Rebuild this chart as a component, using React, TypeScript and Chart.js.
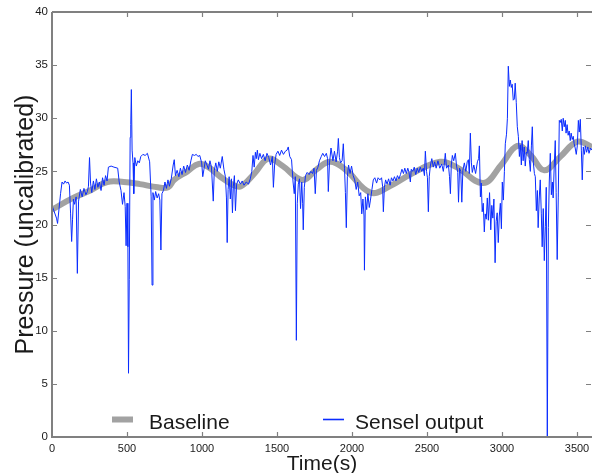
import React, { useEffect, useRef } from "react";
import { Chart, registerables } from "chart.js";

Chart.register(...registerables);

const FONT = "'Liberation Sans', Arial, Helvetica, sans-serif";

const xTitle = "Time(s)";
const yTitle = "Pressure (uncalibrated)";
const seriesLabels = ["Baseline", "Sensel output"];

const xTickValues = [0, 500, 1000, 1500, 2000, 2500, 3000, 3500];
const yTickValues = [0, 5, 10, 15, 20, 25, 30, 35, 40];

const baselineTime = [
  0, 141, 255, 368, 478, 586, 705, 774, 814, 903, 978, 1043, 1122, 1211, 1261, 1350, 1442, 1538, 1668, 1765,
  1854, 1954, 2123, 2251, 2400, 2588, 2697, 2875, 2994, 3102, 3192, 3281, 3390, 3502, 3600,
];
const baselineValue = [
  21.4, 22.5, 23.2, 24.0, 24.0, 23.8, 23.5, 23.5, 24.2, 25.0, 25.7, 25.4, 24.5, 23.7, 23.6, 24.8, 26.2, 25.5, 24.2, 25.2,
  25.9, 25.2, 23.0, 23.6, 24.8, 25.9, 25.4, 23.9, 25.6, 27.4, 26.5, 25.1, 26.4, 27.8, 27.3,
];

const senselTime = [
  0, 30, 37, 47, 57, 67, 77, 87, 97, 107, 116, 124, 131, 137, 143, 151, 161, 169, 177, 189,
  201, 213, 226, 236, 243, 250, 257, 265, 276, 286, 296, 306, 316, 327, 337, 347, 357, 367, 376, 394,
  413, 438, 448, 460, 470, 480, 488, 494, 500, 506, 510, 515, 521, 525, 529, 534, 540, 545, 552, 562,
  572, 582, 592, 606, 621, 636, 651, 661, 667, 673, 682, 691, 701, 711, 719, 726, 733, 743, 753, 763,
  773, 783, 795, 808, 815, 823, 834, 846, 856, 867, 878, 890, 902, 914, 926, 936, 949, 962, 973, 985,
  998, 1005, 1013, 1022, 1033, 1043, 1053, 1063, 1075, 1082, 1092, 1102, 1112, 1122, 1135, 1146, 1156, 1163, 1168, 1174,
  1181, 1189, 1196, 1203, 1209, 1216, 1223, 1231, 1242, 1256, 1268, 1280, 1295, 1310, 1322, 1332, 1340, 1348, 1356, 1362,
  1369, 1376, 1386, 1397, 1409, 1421, 1433, 1445, 1457, 1469, 1476, 1484, 1494, 1506, 1518, 1530, 1543, 1556, 1567, 1575,
  1585, 1597, 1607, 1615, 1622, 1629, 1635, 1642, 1650, 1657, 1665, 1671, 1675, 1682, 1690, 1701, 1714, 1726, 1737, 1747,
  1755, 1763, 1773, 1783, 1795, 1805, 1817, 1829, 1837, 1842, 1850, 1860, 1873, 1883, 1894, 1904, 1909, 1916, 1924, 1934,
  1942, 1950, 1956, 1962, 1969, 1977, 1987, 1997, 2008, 2018, 2028, 2038, 2048, 2058, 2065, 2073, 2080, 2083, 2089, 2098,
  2106, 2115, 2123, 2133, 2142, 2152, 2164, 2174, 2186, 2197, 2204, 2209, 2216, 2224, 2234, 2244, 2254, 2263, 2273, 2283,
  2293, 2303, 2313, 2323, 2333, 2343, 2352, 2362, 2372, 2380, 2389, 2395, 2405, 2415, 2425, 2435, 2445, 2455, 2465, 2475,
  2483, 2489, 2497, 2503, 2509, 2515, 2522, 2532, 2542, 2551, 2561, 2573, 2585, 2598, 2609, 2616, 2622, 2630, 2643, 2650,
  2656, 2662, 2669, 2678, 2689, 2697, 2705, 2710, 2717, 2725, 2732, 2739, 2749, 2759, 2768, 2776, 2782, 2789, 2796, 2802,
  2812, 2824, 2836, 2844, 2849, 2856, 2862, 2868, 2875, 2882, 2888, 2895, 2902, 2909, 2917, 2925, 2932, 2939, 2946, 2954,
  2961, 2968, 2975, 2982, 2989, 2996, 3002, 3009, 3016, 3022, 3030, 3036, 3042, 3049, 3055, 3062, 3068, 3075, 3082, 3088,
  3095, 3102, 3109, 3116, 3122, 3129, 3134, 3141, 3148, 3155, 3162, 3168, 3175, 3182, 3189, 3196, 3202, 3209, 3216, 3222,
  3229, 3236, 3241, 3248, 3255, 3262, 3268, 3275, 3282, 3289, 3295, 3302, 3309, 3315, 3322, 3329, 3336, 3341, 3348, 3355,
  3361, 3368, 3375, 3382, 3388, 3395, 3402, 3408, 3415, 3422, 3427, 3434, 3441, 3448, 3455, 3461, 3468, 3475, 3481, 3488,
  3495, 3502, 3509, 3515, 3522, 3529, 3535, 3542, 3549, 3556, 3564, 3572, 3580, 3590, 3600,
];
const senselValue = [
  21.8, 20.6, 20.1, 21.5, 22.9, 24.0, 23.8, 24.1, 23.9, 24.0, 23.7, 21.0, 18.4, 20.5, 22.4, 21.9, 22.6, 15.4, 22.2, 23.3,
  22.6, 23.4, 22.8, 23.1, 23.6, 26.3, 23.9, 23.0, 24.1, 23.3, 24.3, 23.5, 24.0, 23.2, 24.4, 23.7, 24.6, 24.1, 25.4, 25.5,
  25.4, 25.3, 24.0, 23.2, 21.9, 23.0, 21.7, 18.0, 22.0, 17.9, 6.0, 14.8, 28.2, 29.4, 32.7, 27.0, 25.8, 22.9, 26.3, 25.5,
  26.0, 25.8, 26.4, 26.6, 26.5, 26.7, 25.9, 22.6, 14.3, 23.0, 22.3, 23.1, 22.5, 22.9, 22.3, 17.6, 22.9, 23.2, 24.0, 23.4,
  24.2, 23.6, 24.3, 25.6, 26.1, 24.6, 25.1, 24.5, 25.3, 24.7, 25.5, 24.9, 25.6, 25.1, 26.0, 26.6, 26.5, 26.6, 26.4, 26.5,
  25.8, 24.5, 25.2, 26.0, 25.6, 25.2, 26.0, 25.4, 22.2, 25.1, 25.8, 25.0, 25.9, 25.3, 26.4, 25.2, 24.5, 22.5, 18.3, 23.3,
  24.5, 22.4, 24.3, 21.1, 23.6, 24.6, 21.3, 23.8, 24.2, 23.8, 24.1, 23.7, 24.0, 23.8, 24.3, 25.0, 26.5, 25.4, 26.8, 26.2,
  27.0, 26.1, 26.7, 26.2, 26.6, 26.0, 26.7, 26.3, 25.6, 26.4, 23.5, 25.6, 26.6, 26.9, 26.5, 27.0, 26.6, 26.9, 27.0, 27.3,
  26.4, 26.1, 24.0, 22.9, 24.5, 9.1, 22.0, 23.8, 24.3, 21.5, 24.0, 22.0, 19.5, 23.5, 24.6, 24.9, 24.7, 25.0, 24.8, 25.3,
  22.9, 25.1, 25.4, 26.0, 26.4, 26.7, 26.4, 26.7, 26.2, 23.1, 25.8, 27.2, 26.0, 26.9, 25.9, 26.9, 28.1, 26.3, 25.8, 26.0,
  27.6, 25.3, 23.0, 19.7, 24.5, 25.6, 24.8, 25.5, 24.6, 24.2, 23.3, 24.0, 22.7, 23.0, 21.0, 22.4, 20.8, 15.7, 22.6, 21.4,
  22.9, 21.6, 22.3, 23.3, 24.2, 24.4, 23.9, 24.4, 24.2, 24.4, 23.6, 21.2, 23.5, 24.2, 23.8, 24.3, 23.7, 24.4, 24.1, 24.5,
  24.1, 24.6, 24.3, 24.7, 25.2, 24.8, 25.3, 24.8, 25.3, 24.9, 24.0, 25.2, 25.0, 25.4, 24.7, 25.3, 24.9, 25.4, 25.0, 25.3,
  24.6, 26.9, 25.0, 24.4, 21.2, 24.5, 25.5, 26.2, 25.4, 25.9, 25.3, 26.0, 25.3, 25.7, 25.0, 25.8, 26.7, 25.3, 25.6, 24.5,
  22.9, 25.6, 26.5, 26.0, 26.7, 25.5, 24.9, 22.1, 25.3, 25.0, 22.1, 25.1, 25.8, 25.0, 25.9, 26.1, 24.8, 28.6, 25.8, 24.9,
  25.6, 24.8, 25.9, 26.2, 27.4, 22.6, 23.9, 21.2, 22.0, 19.3, 21.0, 20.5, 22.5, 20.4, 23.0, 19.5, 21.8, 20.6, 22.4, 16.4,
  20.3, 21.1, 18.3, 20.8, 22.0, 19.6, 24.0, 22.3, 25.0, 27.6, 28.5, 30.0, 34.9, 33.0, 33.6, 32.9, 33.2, 31.7, 31.8, 33.3,
  31.5, 29.2, 28.3, 26.4, 27.5, 25.6, 27.9, 26.0, 27.3, 25.5, 26.8, 26.7, 27.9, 26.1, 25.0, 27.4, 29.2, 25.8, 24.8, 24.5,
  21.3, 23.2, 19.7, 22.4, 24.2, 21.0, 17.9, 21.5, 16.6, 19.8, 23.5, 0.0, 19.7, 24.0, 26.7, 22.8, 24.0, 22.5, 25.4, 27.9,
  23.0, 16.7, 22.5, 29.8, 29.6, 29.9, 28.8, 30.0, 29.2, 29.8, 28.6, 29.4, 28.4, 28.8, 27.9, 28.6, 28.0, 28.3, 27.6, 27.2,
  26.6, 27.4, 29.8, 28.7, 29.9, 27.0, 24.2, 27.3, 26.6, 27.4, 26.8, 27.3, 26.7, 27.2, 27.0,
];

const AXIS_COLOR = "#808080";
const TEXT_COLOR = "#1a1a1a";
const BASE_COLOR = "rgba(152,152,152,0.9)";
const SENSEL_COLOR = "#0a2cff";

const framePlugin = {
  id: "frame",
  afterDraw(chart: any) {
    const { ctx, chartArea: a, scales } = chart;
    const xs = scales.x;
    const ys = scales.y;
    ctx.save();
    ctx.strokeStyle = AXIS_COLOR;
    ctx.lineWidth = 2;
    ctx.beginPath();
    ctx.moveTo(a.left, a.top);
    ctx.lineTo(a.right, a.top);
    ctx.moveTo(a.left, a.top);
    ctx.lineTo(a.left, a.bottom);
    ctx.lineTo(a.right, a.bottom);
    ctx.stroke();
    ctx.lineWidth = 1.2;
    ctx.beginPath();
    const tl = 5;
    xs.ticks.forEach((t: any) => {
      const px = Math.round(xs.getPixelForValue(t.value)) + 0.5;
      if (t.value <= xs.min || t.value >= xs.max) return;
      ctx.moveTo(px, a.bottom);
      ctx.lineTo(px, a.bottom - tl);
      ctx.moveTo(px, a.top);
      ctx.lineTo(px, a.top + tl);
    });
    ys.ticks.forEach((t: any) => {
      const py = Math.round(ys.getPixelForValue(t.value)) + 0.5;
      if (t.value <= ys.min || t.value >= ys.max) return;
      ctx.moveTo(a.left, py);
      ctx.lineTo(a.left + tl, py);
      ctx.moveTo(a.right - 1, py);
      ctx.lineTo(a.right - 1 - tl, py);
    });
    ctx.stroke();
    ctx.restore();
  },
};

const legendPlugin = {
  id: "customLegend",
  afterDraw(chart: any) {
    const { ctx } = chart;
    const ds = chart.data.datasets;
    const items = [
      { x0: 112, x1: 133, tx: 149, w: 6 },
      { x0: 323, x1: 344, tx: 355, w: 1.6 },
    ];
    const y = 419.5;
    ctx.save();
    ctx.font = `21px ${FONT}`;
    ctx.textBaseline = "alphabetic";
    ctx.textAlign = "left";
    items.forEach((it, i) => {
      ctx.strokeStyle = ds[i].borderColor;
      ctx.lineWidth = it.w;
      ctx.beginPath();
      ctx.moveTo(it.x0, y);
      ctx.lineTo(it.x1, y);
      ctx.stroke();
      ctx.fillStyle = TEXT_COLOR;
      ctx.fillText(ds[i].label, it.tx, 428.5);
    });
    ctx.restore();
  },
};

export default function App() {
  const ref = useRef<HTMLCanvasElement | null>(null);
  useEffect(() => {
    if (!ref.current) return;
    const chart = new Chart(ref.current, {
      type: "line",
      data: {
        datasets: [
          {
            label: seriesLabels[0],
            data: baselineTime.map((t, i) => ({ x: t, y: baselineValue[i] })),
            borderColor: BASE_COLOR,
            borderWidth: 6,
            pointRadius: 0,
            tension: 0.4,
            fill: false,
            order: 2,
          },
          {
            label: seriesLabels[1],
            data: senselTime.map((t, i) => ({ x: t, y: senselValue[i] })),
            borderColor: SENSEL_COLOR,
            borderWidth: 1,
            pointRadius: 0,
            tension: 0,
            fill: false,
            order: 1,
          },
        ],
      },
      options: {
        animation: false,
        responsive: false,
        maintainAspectRatio: false,
        layout: { padding: { left: 0, right: 3, top: 12, bottom: 0 } },
        plugins: { legend: { display: false }, tooltip: { enabled: false } },
        scales: {
          x: {
            type: "linear",
            min: 0,
            max: 3600,
            afterBuildTicks: (s: any) => {
              s.ticks = xTickValues.map((v) => ({ value: v }));
            },
            afterFit: (s: any) => {
              s.height = 36;
            },
            ticks: {
              autoSkip: false,
              maxRotation: 0,
              padding: 5,
              color: TEXT_COLOR,
              font: { family: FONT, size: 11 },
              callback: (v: any) => String(v),
            },
            grid: { display: false, drawTicks: false },
            border: { display: false },
            title: {
              display: true,
              text: xTitle,
              color: TEXT_COLOR,
              font: { family: FONT, size: 21 },
              padding: { top: 0, bottom: -4 },
            },
          },
          y: {
            min: 0,
            max: 40,
            afterBuildTicks: (s: any) => {
              s.ticks = yTickValues.map((v) => ({ value: v }));
            },
            afterFit: (s: any) => {
              s.width = 52;
            },
            ticks: {
              padding: 4,
              color: TEXT_COLOR,
              font: { family: FONT, size: 11.5 },
              callback: (v: any) => String(v),
            },
            grid: { display: false, drawTicks: false },
            border: { display: false },
            title: {
              display: true,
              text: yTitle,
              color: TEXT_COLOR,
              font: { family: FONT, size: 25 },
              padding: { top: 11.5, bottom: 0 },
            },
          },
        },
      },
      plugins: [framePlugin, legendPlugin],
    });
    return () => chart.destroy();
  }, []);
  return (
    <div style={{ position: "fixed", left: 0, top: 0, width: 595, height: 473, background: "#fff" }}>
      <canvas ref={ref} width={595} height={473} style={{ display: "block" }} />
    </div>
  );
}
